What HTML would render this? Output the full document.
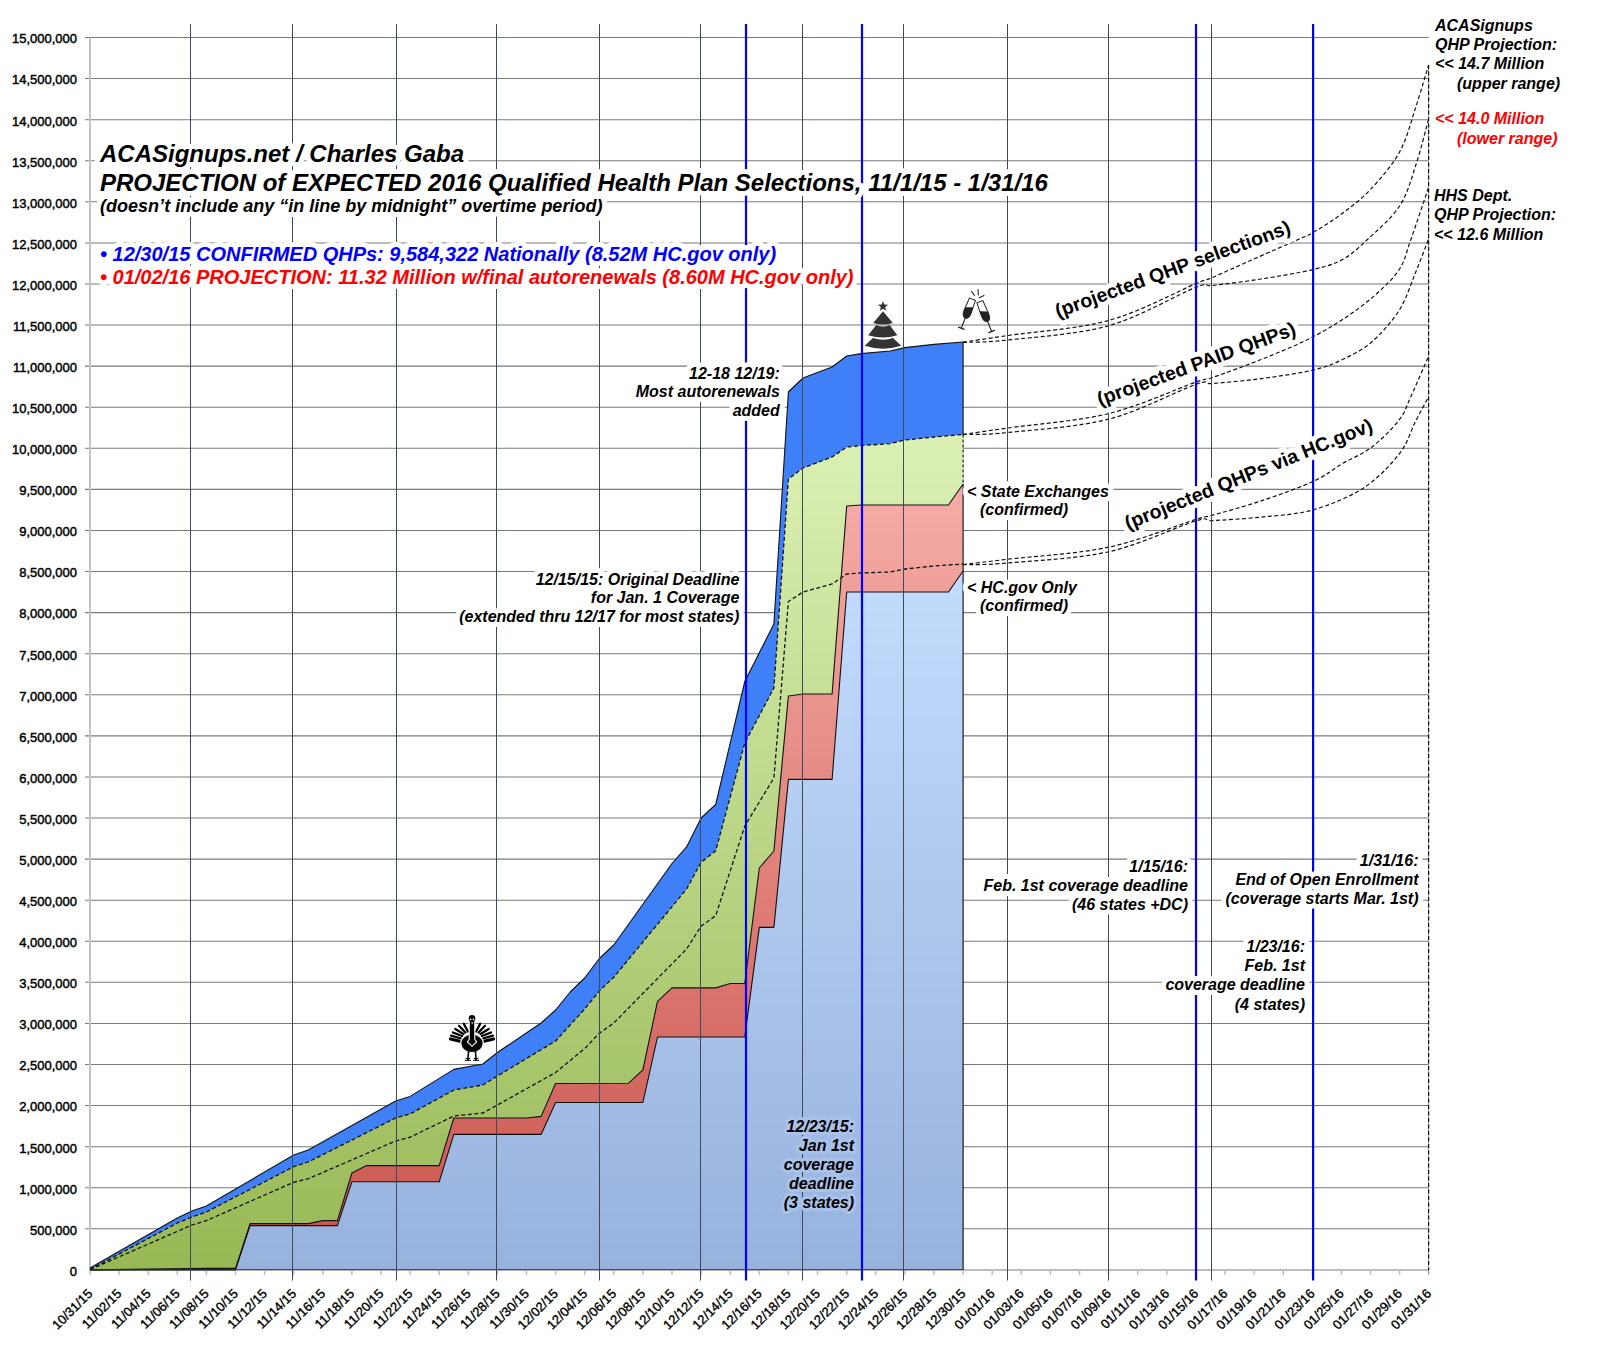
<!DOCTYPE html><html><head><meta charset="utf-8"><style>html,body{margin:0;padding:0;background:#fff;}svg{display:block;}text{font-family:"Liberation Sans",sans-serif;}</style></head><body>
<svg width="1600" height="1350" viewBox="0 0 1600 1350">
<defs>
<linearGradient id="gLB" gradientUnits="userSpaceOnUse" x1="0" y1="571" x2="0" y2="1270"><stop offset="0" stop-color="#c3dbfc"/><stop offset="1" stop-color="#97b2dd"/></linearGradient>
<linearGradient id="gRT" gradientUnits="userSpaceOnUse" x1="0" y1="484" x2="0" y2="1270"><stop offset="0" stop-color="#f6aca7"/><stop offset="1" stop-color="#c9544c"/></linearGradient>
<linearGradient id="gGT" gradientUnits="userSpaceOnUse" x1="0" y1="434" x2="0" y2="1270"><stop offset="0" stop-color="#dbf1b4"/><stop offset="1" stop-color="#98b855"/></linearGradient>
</defs>
<rect width="1600" height="1350" fill="#fff"/>
<g stroke="#7a7a7a" stroke-width="1.05"><line x1="85" y1="1228.82" x2="1428.6" y2="1228.82"/><line x1="85" y1="1187.74" x2="1428.6" y2="1187.74"/><line x1="85" y1="1146.66" x2="1428.6" y2="1146.66"/><line x1="85" y1="1105.58" x2="1428.6" y2="1105.58"/><line x1="85" y1="1064.50" x2="1428.6" y2="1064.50"/><line x1="85" y1="1023.42" x2="1428.6" y2="1023.42"/><line x1="85" y1="982.34" x2="1428.6" y2="982.34"/><line x1="85" y1="941.26" x2="1428.6" y2="941.26"/><line x1="85" y1="900.18" x2="1428.6" y2="900.18"/><line x1="85" y1="859.10" x2="1428.6" y2="859.10"/><line x1="85" y1="818.02" x2="1428.6" y2="818.02"/><line x1="85" y1="776.94" x2="1428.6" y2="776.94"/><line x1="85" y1="735.86" x2="1428.6" y2="735.86"/><line x1="85" y1="694.78" x2="1428.6" y2="694.78"/><line x1="85" y1="653.70" x2="1428.6" y2="653.70"/><line x1="85" y1="612.62" x2="1428.6" y2="612.62"/><line x1="85" y1="571.54" x2="1428.6" y2="571.54"/><line x1="85" y1="530.46" x2="1428.6" y2="530.46"/><line x1="85" y1="489.38" x2="1428.6" y2="489.38"/><line x1="85" y1="448.30" x2="1428.6" y2="448.30"/><line x1="85" y1="407.22" x2="1428.6" y2="407.22"/><line x1="85" y1="366.14" x2="1428.6" y2="366.14"/><line x1="85" y1="325.06" x2="1428.6" y2="325.06"/><line x1="85" y1="283.98" x2="1428.6" y2="283.98"/><line x1="85" y1="242.90" x2="1428.6" y2="242.90"/><line x1="85" y1="201.82" x2="1428.6" y2="201.82"/><line x1="85" y1="160.74" x2="1428.6" y2="160.74"/><line x1="85" y1="119.66" x2="1428.6" y2="119.66"/><line x1="85" y1="78.58" x2="1428.6" y2="78.58"/><line x1="85" y1="37.50" x2="1428.6" y2="37.50"/></g>
<g font-size="13" font-weight="normal" stroke="#000" stroke-width="0.45" text-anchor="end" fill="#000"><text x="77" y="1275.7">0</text><text x="77" y="1234.6">500,000</text><text x="77" y="1193.5">1,000,000</text><text x="77" y="1152.5">1,500,000</text><text x="77" y="1111.4">2,000,000</text><text x="77" y="1070.3">2,500,000</text><text x="77" y="1029.2">3,000,000</text><text x="77" y="988.1">3,500,000</text><text x="77" y="947.1">4,000,000</text><text x="77" y="906.0">4,500,000</text><text x="77" y="864.9">5,000,000</text><text x="77" y="823.8">5,500,000</text><text x="77" y="782.7">6,000,000</text><text x="77" y="741.7">6,500,000</text><text x="77" y="700.6">7,000,000</text><text x="77" y="659.5">7,500,000</text><text x="77" y="618.4">8,000,000</text><text x="77" y="577.3">8,500,000</text><text x="77" y="536.3">9,000,000</text><text x="77" y="495.2">9,500,000</text><text x="77" y="454.1">10,000,000</text><text x="77" y="413.0">10,500,000</text><text x="77" y="371.9">11,000,000</text><text x="77" y="330.9">11,500,000</text><text x="77" y="289.8">12,000,000</text><text x="77" y="248.7">12,500,000</text><text x="77" y="207.6">13,000,000</text><text x="77" y="166.5">13,500,000</text><text x="77" y="125.5">14,000,000</text><text x="77" y="84.4">14,500,000</text><text x="77" y="43.3">15,000,000</text></g>
<line x1="90" y1="37.5" x2="90" y2="1270" stroke="#c4c4c4" stroke-width="2"/>
<line x1="89" y1="1270" x2="1428.6" y2="1270" stroke="#bdbdbd" stroke-width="2"/>
<g stroke="#bdbdbd" stroke-width="1.5"><line x1="90.0" y1="1270" x2="90.0" y2="1275"/><line x1="119.1" y1="1270" x2="119.1" y2="1275"/><line x1="148.2" y1="1270" x2="148.2" y2="1275"/><line x1="177.3" y1="1270" x2="177.3" y2="1275"/><line x1="206.4" y1="1270" x2="206.4" y2="1275"/><line x1="235.5" y1="1270" x2="235.5" y2="1275"/><line x1="264.6" y1="1270" x2="264.6" y2="1275"/><line x1="293.7" y1="1270" x2="293.7" y2="1275"/><line x1="322.8" y1="1270" x2="322.8" y2="1275"/><line x1="351.9" y1="1270" x2="351.9" y2="1275"/><line x1="381.0" y1="1270" x2="381.0" y2="1275"/><line x1="410.1" y1="1270" x2="410.1" y2="1275"/><line x1="439.2" y1="1270" x2="439.2" y2="1275"/><line x1="468.3" y1="1270" x2="468.3" y2="1275"/><line x1="497.4" y1="1270" x2="497.4" y2="1275"/><line x1="526.5" y1="1270" x2="526.5" y2="1275"/><line x1="555.6" y1="1270" x2="555.6" y2="1275"/><line x1="584.7" y1="1270" x2="584.7" y2="1275"/><line x1="613.8" y1="1270" x2="613.8" y2="1275"/><line x1="642.9" y1="1270" x2="642.9" y2="1275"/><line x1="672.0" y1="1270" x2="672.0" y2="1275"/><line x1="701.1" y1="1270" x2="701.1" y2="1275"/><line x1="730.2" y1="1270" x2="730.2" y2="1275"/><line x1="759.3" y1="1270" x2="759.3" y2="1275"/><line x1="788.4" y1="1270" x2="788.4" y2="1275"/><line x1="817.5" y1="1270" x2="817.5" y2="1275"/><line x1="846.7" y1="1270" x2="846.7" y2="1275"/><line x1="875.8" y1="1270" x2="875.8" y2="1275"/><line x1="904.9" y1="1270" x2="904.9" y2="1275"/><line x1="934.0" y1="1270" x2="934.0" y2="1275"/><line x1="963.1" y1="1270" x2="963.1" y2="1275"/><line x1="992.2" y1="1270" x2="992.2" y2="1275"/><line x1="1021.3" y1="1270" x2="1021.3" y2="1275"/><line x1="1050.4" y1="1270" x2="1050.4" y2="1275"/><line x1="1079.5" y1="1270" x2="1079.5" y2="1275"/><line x1="1108.6" y1="1270" x2="1108.6" y2="1275"/><line x1="1137.7" y1="1270" x2="1137.7" y2="1275"/><line x1="1166.8" y1="1270" x2="1166.8" y2="1275"/><line x1="1195.9" y1="1270" x2="1195.9" y2="1275"/><line x1="1225.0" y1="1270" x2="1225.0" y2="1275"/><line x1="1254.1" y1="1270" x2="1254.1" y2="1275"/><line x1="1283.2" y1="1270" x2="1283.2" y2="1275"/><line x1="1312.3" y1="1270" x2="1312.3" y2="1275"/><line x1="1341.4" y1="1270" x2="1341.4" y2="1275"/><line x1="1370.5" y1="1270" x2="1370.5" y2="1275"/><line x1="1399.6" y1="1270" x2="1399.6" y2="1275"/><line x1="1428.7" y1="1270" x2="1428.7" y2="1275"/></g>
<polygon points="90.0,1269.9 90.0,1268.0 177.3,1218.0 191.9,1211.0 206.4,1206.0 293.7,1155.0 308.3,1150.0 395.6,1101.0 410.1,1096.4 453.8,1069.4 482.9,1064.0 497.4,1052.5 541.1,1023.0 555.6,1010.0 570.2,992.0 584.7,978.0 599.3,958.5 613.8,945.0 672.0,863.5 686.6,846.9 701.1,818.0 715.7,804.5 744.8,681.5 773.9,624.0 788.4,392.0 803.0,378.0 832.1,367.0 846.7,356.0 861.2,353.6 890.3,351.0 904.9,347.6 934.0,344.4 963.1,342.0 963.1,1269.9" fill="#3f7ff8" stroke="none"/>
<polygon points="90.0,1269.9 90.0,1269.5 177.3,1223.0 191.9,1217.0 206.4,1212.0 293.7,1166.7 308.3,1162.0 395.6,1118.0 410.1,1114.0 453.8,1090.0 482.9,1085.0 497.4,1076.0 555.6,1041.0 584.7,1009.0 599.3,991.0 613.8,977.2 686.6,889.0 701.1,862.3 715.7,850.8 744.8,743.0 773.9,688.0 788.4,479.0 803.0,468.0 832.1,457.0 846.7,447.0 861.2,445.6 890.3,443.6 904.9,440.0 934.0,437.0 963.1,434.4 963.1,1269.9" fill="url(#gGT)" stroke="none"/>
<polygon points="90.0,1269.9 90.0,1269.9 206.4,1268.4 235.5,1268.4 250.1,1223.6 308.3,1223.6 322.8,1220.6 337.4,1220.6 351.9,1173.0 366.5,1165.6 439.2,1165.6 453.8,1118.0 526.5,1118.0 541.1,1116.4 555.6,1083.5 628.4,1083.3 642.9,1069.8 657.5,1001.4 672.0,987.9 715.7,987.9 730.2,983.5 744.8,983.5 759.3,868.0 773.9,851.0 788.4,696.0 803.0,694.0 832.1,694.0 846.7,506.0 861.2,505.0 948.5,505.0 963.1,484.0 963.1,1269.9" fill="url(#gRT)" stroke="none"/>
<polygon points="90.0,1269.9 90.0,1269.9 235.5,1269.9 250.1,1225.6 337.4,1225.6 351.9,1181.8 439.2,1181.8 453.8,1134.4 541.1,1134.4 555.6,1102.5 642.9,1102.5 657.5,1037.0 744.8,1037.0 759.3,927.4 773.9,927.4 788.4,779.4 832.1,779.4 846.7,592.0 948.5,592.0 963.1,571.0 963.1,1269.9" fill="url(#gLB)" stroke="none"/>
<polyline points="90.0,1268.0 177.3,1218.0 191.9,1211.0 206.4,1206.0 293.7,1155.0 308.3,1150.0 395.6,1101.0 410.1,1096.4 453.8,1069.4 482.9,1064.0 497.4,1052.5 541.1,1023.0 555.6,1010.0 570.2,992.0 584.7,978.0 599.3,958.5 613.8,945.0 672.0,863.5 686.6,846.9 701.1,818.0 715.7,804.5 744.8,681.5 773.9,624.0 788.4,392.0 803.0,378.0 832.1,367.0 846.7,356.0 861.2,353.6 890.3,351.0 904.9,347.6 934.0,344.4 963.1,342.0" fill="none" stroke="#111" stroke-width="1.1" stroke-linejoin="round"/>
<polyline points="90.0,1269.9 206.4,1268.4 235.5,1268.4 250.1,1223.6 308.3,1223.6 322.8,1220.6 337.4,1220.6 351.9,1173.0 366.5,1165.6 439.2,1165.6 453.8,1118.0 526.5,1118.0 541.1,1116.4 555.6,1083.5 628.4,1083.3 642.9,1069.8 657.5,1001.4 672.0,987.9 715.7,987.9 730.2,983.5 744.8,983.5 759.3,868.0 773.9,851.0 788.4,696.0 803.0,694.0 832.1,694.0 846.7,506.0 861.2,505.0 948.5,505.0 963.1,484.0" fill="none" stroke="#111" stroke-width="1.1" stroke-linejoin="round"/>
<polyline points="90.0,1269.9 235.5,1269.9 250.1,1225.6 337.4,1225.6 351.9,1181.8 439.2,1181.8 453.8,1134.4 541.1,1134.4 555.6,1102.5 642.9,1102.5 657.5,1037.0 744.8,1037.0 759.3,927.4 773.9,927.4 788.4,779.4 832.1,779.4 846.7,592.0 948.5,592.0 963.1,571.0" fill="none" stroke="#111" stroke-width="1.1" stroke-linejoin="round"/>
<polyline points="90.0,1269.5 177.3,1223.0 191.9,1217.0 206.4,1212.0 293.7,1166.7 308.3,1162.0 395.6,1118.0 410.1,1114.0 453.8,1090.0 482.9,1085.0 497.4,1076.0 555.6,1041.0 584.7,1009.0 599.3,991.0 613.8,977.2 686.6,889.0 701.1,862.3 715.7,850.8 744.8,743.0 773.9,688.0 788.4,479.0 803.0,468.0 832.1,457.0 846.7,447.0 861.2,445.6 890.3,443.6 904.9,440.0 934.0,437.0 963.1,434.4" fill="none" stroke="#111" stroke-width="1.3" stroke-dasharray="4,2.5"/>
<polyline points="90.0,1269.5 191.9,1225.0 206.4,1220.6 293.7,1182.3 308.3,1178.7 395.6,1141.0 410.1,1137.2 453.8,1116.0 482.9,1113.0 497.4,1105.0 555.6,1072.5 584.7,1048.6 599.3,1033.2 613.8,1023.0 686.6,949.0 701.1,926.2 715.7,915.6 744.8,826.0 773.9,778.0 788.4,601.5 803.0,592.0 832.1,584.0 846.7,574.0 861.2,573.0 890.3,572.0 904.9,569.0 934.0,566.0 963.1,564.0" fill="none" stroke="#111" stroke-width="1.3" stroke-dasharray="4,2.5"/>
<line x1="963.1" y1="342" x2="963.1" y2="434.4" stroke="#111" stroke-width="1.1"/>
<line x1="963.1" y1="434.4" x2="963.1" y2="484" stroke="#111" stroke-width="1.1" stroke-dasharray="3,2"/>
<line x1="963.1" y1="484" x2="963.1" y2="1270" stroke="#111" stroke-width="1.1"/>
<line x1="90" y1="1269.6" x2="963.1" y2="1269.6" stroke="#333" stroke-width="0.9"/>
<path d="M963.0,342.2 C970.5,341.1 983.8,339.1 1008.0,335.5 C1032.2,331.9 1077.2,329.1 1108.5,320.5 C1139.8,311.9 1178.2,291.0 1195.5,283.8 C1212.8,276.6 1203.2,281.5 1212.5,277.5 C1221.8,273.5 1237.5,266.2 1251.6,260.0 C1265.7,253.8 1286.8,244.6 1297.0,240.0 C1307.2,235.4 1305.6,236.8 1313.0,232.5 C1320.4,228.2 1331.9,221.2 1341.5,214.0 C1351.1,206.8 1360.8,199.7 1370.5,189.4 C1380.2,179.1 1392.0,165.8 1399.6,152.0 C1407.2,138.2 1411.2,120.9 1416.0,106.4 C1420.8,91.9 1426.5,71.9 1428.6,65.0" fill="none" stroke="#111" stroke-width="1.2" stroke-dasharray="4,2.5"/>
<path d="M963.0,342.4 C970.5,342.0 983.8,342.8 1008.0,340.0 C1032.2,337.2 1077.2,334.5 1108.5,325.8 C1139.8,317.0 1178.2,294.2 1195.5,287.5 C1212.8,280.8 1201.5,286.9 1212.5,285.5 C1223.5,284.1 1244.4,281.7 1261.2,279.0 C1278.0,276.3 1299.7,272.8 1313.2,269.5 C1326.8,266.2 1333.5,264.4 1342.5,259.5 C1351.5,254.6 1357.4,248.9 1366.9,240.0 C1376.4,231.1 1391.4,218.6 1399.6,206.0 C1407.8,193.4 1411.2,179.0 1416.0,164.5 C1420.8,150.0 1426.5,126.6 1428.6,119.0" fill="none" stroke="#111" stroke-width="1.2" stroke-dasharray="4,2.5"/>
<path d="M963.0,434.4 C970.5,433.3 983.8,431.5 1008.0,428.0 C1032.2,424.5 1077.2,421.2 1108.5,413.6 C1139.8,406.0 1178.2,388.2 1195.5,382.2 C1212.8,376.2 1201.5,381.3 1212.5,377.5 C1223.5,373.7 1245.5,365.8 1261.2,359.5 C1276.9,353.2 1293.2,346.6 1306.7,340.0 C1320.2,333.4 1331.1,327.1 1342.5,319.6 C1353.9,312.1 1365.5,303.6 1375.0,295.2 C1384.5,286.8 1393.5,278.4 1399.4,269.2 C1405.4,260.0 1405.8,253.7 1410.7,240.0 C1415.6,226.3 1425.6,196.1 1428.6,187.3" fill="none" stroke="#111" stroke-width="1.2" stroke-dasharray="4,2.5"/>
<path d="M963.0,434.6 C970.5,434.2 983.8,435.1 1008.0,432.5 C1032.2,429.9 1077.2,427.2 1108.5,419.2 C1139.8,411.2 1178.2,390.4 1195.5,384.5 C1212.8,378.6 1201.5,384.5 1212.5,383.5 C1223.5,382.5 1244.4,380.9 1261.2,378.6 C1278.0,376.4 1299.7,373.2 1313.2,370.0 C1326.8,366.8 1332.8,364.2 1342.5,359.5 C1352.2,354.8 1362.2,350.3 1371.7,342.0 C1381.2,333.7 1392.1,321.5 1399.4,309.9 C1406.7,298.3 1410.7,284.3 1415.6,272.5 C1420.5,260.7 1426.4,244.6 1428.6,239.0" fill="none" stroke="#111" stroke-width="1.2" stroke-dasharray="4,2.5"/>
<path d="M963.0,564.5 C970.5,563.6 983.8,562.1 1008.0,559.2 C1032.2,556.4 1077.2,553.9 1108.5,547.2 C1139.8,540.6 1178.2,524.8 1195.5,519.5 C1212.8,514.2 1201.5,518.3 1212.5,515.2 C1223.5,512.1 1244.4,506.5 1261.2,500.9 C1278.0,495.3 1299.7,487.6 1313.2,481.4 C1326.8,475.2 1332.8,469.2 1342.5,463.5 C1352.2,457.8 1362.2,454.5 1371.7,447.2 C1381.2,439.9 1392.9,428.0 1399.4,419.6 C1405.9,411.2 1405.8,407.5 1410.7,396.9 C1415.6,386.3 1425.6,363.0 1428.6,356.2" fill="none" stroke="#111" stroke-width="1.2" stroke-dasharray="4,2.5"/>
<path d="M963.0,564.7 C970.5,564.4 983.8,565.2 1008.0,563.0 C1032.2,560.8 1077.2,558.8 1108.5,551.8 C1139.8,544.8 1178.2,526.2 1195.5,521.0 C1212.8,515.8 1201.5,521.2 1212.5,520.6 C1223.5,520.0 1244.4,518.9 1261.2,517.1 C1278.0,515.3 1296.1,514.7 1313.2,509.8 C1330.3,504.9 1349.2,497.2 1363.6,487.9 C1378.0,478.5 1390.7,464.8 1399.4,453.7 C1408.1,442.6 1410.7,430.7 1415.6,421.2 C1420.5,411.7 1426.4,400.9 1428.6,396.9" fill="none" stroke="#111" stroke-width="1.2" stroke-dasharray="4,2.5"/>
<line x1="1428.6" y1="65" x2="1428.6" y2="1274" stroke="#9a9a9a" stroke-width="1"/><line x1="1428.6" y1="65" x2="1428.6" y2="1270" stroke="#111" stroke-width="1.2" stroke-dasharray="4,2.5"/>
<g stroke="#3e4a5c" stroke-width="1"><line x1="190.5" y1="24" x2="190.5" y2="1280.5"/><line x1="292.5" y1="24" x2="292.5" y2="1280.5"/><line x1="396.5" y1="24" x2="396.5" y2="1280.5"/><line x1="496.5" y1="24" x2="496.5" y2="1280.5"/><line x1="599.5" y1="24" x2="599.5" y2="1280.5"/><line x1="700.5" y1="24" x2="700.5" y2="1280.5"/><line x1="802.5" y1="24" x2="802.5" y2="1280.5"/><line x1="903.5" y1="24" x2="903.5" y2="1280.5"/><line x1="1007.5" y1="24" x2="1007.5" y2="1280.5"/><line x1="1108.5" y1="24" x2="1108.5" y2="1280.5"/><line x1="1211.5" y1="24" x2="1211.5" y2="1280.5"/></g>
<g stroke="#0000ff" stroke-width="2.2"><line x1="746.0" y1="24" x2="746.0" y2="1280.5"/><line x1="862.0" y1="24" x2="862.0" y2="1280.5"/><line x1="1196.0" y1="24" x2="1196.0" y2="1280.5"/><line x1="1313.1" y1="24" x2="1313.1" y2="1280.5"/></g>
<g font-size="13" stroke="#000" stroke-width="0.35" text-anchor="end" fill="#000"><text transform="translate(93.3,1294.5) rotate(-45)">10/31/15</text><text transform="translate(122.4,1294.5) rotate(-45)">11/02/15</text><text transform="translate(151.5,1294.5) rotate(-45)">11/04/15</text><text transform="translate(180.6,1294.5) rotate(-45)">11/06/15</text><text transform="translate(209.7,1294.5) rotate(-45)">11/08/15</text><text transform="translate(238.8,1294.5) rotate(-45)">11/10/15</text><text transform="translate(267.9,1294.5) rotate(-45)">11/12/15</text><text transform="translate(297.0,1294.5) rotate(-45)">11/14/15</text><text transform="translate(326.1,1294.5) rotate(-45)">11/16/15</text><text transform="translate(355.2,1294.5) rotate(-45)">11/18/15</text><text transform="translate(384.3,1294.5) rotate(-45)">11/20/15</text><text transform="translate(413.4,1294.5) rotate(-45)">11/22/15</text><text transform="translate(442.5,1294.5) rotate(-45)">11/24/15</text><text transform="translate(471.6,1294.5) rotate(-45)">11/26/15</text><text transform="translate(500.7,1294.5) rotate(-45)">11/28/15</text><text transform="translate(529.8,1294.5) rotate(-45)">11/30/15</text><text transform="translate(558.9,1294.5) rotate(-45)">12/02/15</text><text transform="translate(588.0,1294.5) rotate(-45)">12/04/15</text><text transform="translate(617.1,1294.5) rotate(-45)">12/06/15</text><text transform="translate(646.2,1294.5) rotate(-45)">12/08/15</text><text transform="translate(675.3,1294.5) rotate(-45)">12/10/15</text><text transform="translate(704.4,1294.5) rotate(-45)">12/12/15</text><text transform="translate(733.5,1294.5) rotate(-45)">12/14/15</text><text transform="translate(762.6,1294.5) rotate(-45)">12/16/15</text><text transform="translate(791.7,1294.5) rotate(-45)">12/18/15</text><text transform="translate(820.8,1294.5) rotate(-45)">12/20/15</text><text transform="translate(850.0,1294.5) rotate(-45)">12/22/15</text><text transform="translate(879.1,1294.5) rotate(-45)">12/24/15</text><text transform="translate(908.2,1294.5) rotate(-45)">12/26/15</text><text transform="translate(937.3,1294.5) rotate(-45)">12/28/15</text><text transform="translate(966.4,1294.5) rotate(-45)">12/30/15</text><text transform="translate(995.5,1294.5) rotate(-45)">01/01/16</text><text transform="translate(1024.6,1294.5) rotate(-45)">01/03/16</text><text transform="translate(1053.7,1294.5) rotate(-45)">01/05/16</text><text transform="translate(1082.8,1294.5) rotate(-45)">01/07/16</text><text transform="translate(1111.9,1294.5) rotate(-45)">01/09/16</text><text transform="translate(1141.0,1294.5) rotate(-45)">01/11/16</text><text transform="translate(1170.1,1294.5) rotate(-45)">01/13/16</text><text transform="translate(1199.2,1294.5) rotate(-45)">01/15/16</text><text transform="translate(1228.3,1294.5) rotate(-45)">01/17/16</text><text transform="translate(1257.4,1294.5) rotate(-45)">01/19/16</text><text transform="translate(1286.5,1294.5) rotate(-45)">01/21/16</text><text transform="translate(1315.6,1294.5) rotate(-45)">01/23/16</text><text transform="translate(1344.7,1294.5) rotate(-45)">01/25/16</text><text transform="translate(1373.8,1294.5) rotate(-45)">01/27/16</text><text transform="translate(1402.9,1294.5) rotate(-45)">01/29/16</text><text transform="translate(1432.0,1294.5) rotate(-45)">01/31/16</text></g>
<text x="100" y="162.2" font-size="24" font-weight="bold" font-style="italic" text-anchor="start" fill="#000" stroke="#fff" stroke-width="10" stroke-linejoin="round" paint-order="stroke" >ACASignups.net / Charles Gaba</text>
<text x="100" y="191" font-size="24" font-weight="bold" font-style="italic" text-anchor="start" fill="#000" stroke="#fff" stroke-width="10" stroke-linejoin="round" paint-order="stroke" >PROJECTION of EXPECTED 2016 Qualified Health Plan Selections, 11/1/15 - 1/31/16</text>
<text x="100" y="212" font-size="18" font-weight="bold" font-style="italic" text-anchor="start" fill="#000" stroke="#fff" stroke-width="10" stroke-linejoin="round" paint-order="stroke" >(doesn’t include any “in line by midnight” overtime period)</text>
<text x="100" y="260.7" font-size="20" font-weight="bold" font-style="italic" text-anchor="start" fill="#0000ff" stroke="#fff" stroke-width="10" stroke-linejoin="round" paint-order="stroke" >• 12/30/15 CONFIRMED QHPs: 9,584,322 Nationally (8.52M HC.gov only)</text>
<text x="100" y="284" font-size="20" font-weight="bold" font-style="italic" text-anchor="start" fill="#ff0000" stroke="#fff" stroke-width="10" stroke-linejoin="round" paint-order="stroke" >• 01/02/16 PROJECTION: 11.32 Million w/final autorenewals (8.60M HC.gov only)</text>
<text x="779.8" y="378.6" font-size="16" font-weight="bold" font-style="italic" text-anchor="end" fill="#000" stroke="#fff" stroke-width="10" stroke-linejoin="round" paint-order="stroke" >12-18 12/19:</text>
<text x="779.8" y="397.40000000000003" font-size="16" font-weight="bold" font-style="italic" text-anchor="end" fill="#000" stroke="#fff" stroke-width="10" stroke-linejoin="round" paint-order="stroke" >Most autorenewals</text>
<text x="779.8" y="416.20000000000005" font-size="16" font-weight="bold" font-style="italic" text-anchor="end" fill="#000" stroke="#fff" stroke-width="10" stroke-linejoin="round" paint-order="stroke" >added</text>
<text x="739.3" y="584.5" font-size="16" font-weight="bold" font-style="italic" text-anchor="end" fill="#000" stroke="#fff" stroke-width="10" stroke-linejoin="round" paint-order="stroke" >12/15/15: Original Deadline</text>
<text x="739.3" y="603.4" font-size="16" font-weight="bold" font-style="italic" text-anchor="end" fill="#000" stroke="#fff" stroke-width="10" stroke-linejoin="round" paint-order="stroke" >for Jan. 1 Coverage</text>
<text x="739.3" y="622.3" font-size="16" font-weight="bold" font-style="italic" text-anchor="end" fill="#000" stroke="#fff" stroke-width="10" stroke-linejoin="round" paint-order="stroke" >(extended thru 12/17 for most states)</text>
<text x="967" y="496.7" font-size="16" font-weight="bold" font-style="italic" text-anchor="start" fill="#000" stroke="#fff" stroke-width="10" stroke-linejoin="round" paint-order="stroke" >&lt; State Exchanges</text>
<text x="980" y="515" font-size="16" font-weight="bold" font-style="italic" text-anchor="start" fill="#000" stroke="#fff" stroke-width="10" stroke-linejoin="round" paint-order="stroke" >(confirmed)</text>
<text x="967" y="592.8" font-size="16" font-weight="bold" font-style="italic" text-anchor="start" fill="#000" stroke="#fff" stroke-width="10" stroke-linejoin="round" paint-order="stroke" >&lt; HC.gov Only</text>
<text x="980" y="611.1" font-size="16" font-weight="bold" font-style="italic" text-anchor="start" fill="#000" stroke="#fff" stroke-width="10" stroke-linejoin="round" paint-order="stroke" >(confirmed)</text>
<text x="854" y="1131.5" font-size="16" font-weight="bold" font-style="italic" text-anchor="end" fill="#000" stroke="#a8c2ea" stroke-width="6" stroke-linejoin="round" paint-order="stroke" >12/23/15:</text>
<text x="854" y="1150.7" font-size="16" font-weight="bold" font-style="italic" text-anchor="end" fill="#000" stroke="#a8c2ea" stroke-width="6" stroke-linejoin="round" paint-order="stroke" >Jan 1st</text>
<text x="854" y="1169.9" font-size="16" font-weight="bold" font-style="italic" text-anchor="end" fill="#000" stroke="#a8c2ea" stroke-width="6" stroke-linejoin="round" paint-order="stroke" >coverage</text>
<text x="854" y="1189.1" font-size="16" font-weight="bold" font-style="italic" text-anchor="end" fill="#000" stroke="#a8c2ea" stroke-width="6" stroke-linejoin="round" paint-order="stroke" >deadline</text>
<text x="854" y="1208.3" font-size="16" font-weight="bold" font-style="italic" text-anchor="end" fill="#000" stroke="#a8c2ea" stroke-width="6" stroke-linejoin="round" paint-order="stroke" >(3 states)</text>
<text x="1188" y="871.6" font-size="16" font-weight="bold" font-style="italic" text-anchor="end" fill="#000" stroke="#fff" stroke-width="10" stroke-linejoin="round" paint-order="stroke" >1/15/16:</text>
<text x="1188" y="890.6" font-size="16" font-weight="bold" font-style="italic" text-anchor="end" fill="#000" stroke="#fff" stroke-width="10" stroke-linejoin="round" paint-order="stroke" >Feb. 1st coverage deadline</text>
<text x="1188" y="909.6" font-size="16" font-weight="bold" font-style="italic" text-anchor="end" fill="#000" stroke="#fff" stroke-width="10" stroke-linejoin="round" paint-order="stroke" >(46 states +DC)</text>
<text x="1418.5" y="865.9" font-size="16" font-weight="bold" font-style="italic" text-anchor="end" fill="#000" stroke="#fff" stroke-width="10" stroke-linejoin="round" paint-order="stroke" >1/31/16:</text>
<text x="1418.5" y="884.9" font-size="16" font-weight="bold" font-style="italic" text-anchor="end" fill="#000" stroke="#fff" stroke-width="10" stroke-linejoin="round" paint-order="stroke" >End of Open Enrollment</text>
<text x="1418.5" y="903.9" font-size="16" font-weight="bold" font-style="italic" text-anchor="end" fill="#000" stroke="#fff" stroke-width="10" stroke-linejoin="round" paint-order="stroke" >(coverage starts Mar. 1st)</text>
<text x="1305" y="951.6" font-size="16" font-weight="bold" font-style="italic" text-anchor="end" fill="#000" stroke="#fff" stroke-width="10" stroke-linejoin="round" paint-order="stroke" >1/23/16:</text>
<text x="1305" y="970.9" font-size="16" font-weight="bold" font-style="italic" text-anchor="end" fill="#000" stroke="#fff" stroke-width="10" stroke-linejoin="round" paint-order="stroke" >Feb. 1st</text>
<text x="1305" y="990.2" font-size="16" font-weight="bold" font-style="italic" text-anchor="end" fill="#000" stroke="#fff" stroke-width="10" stroke-linejoin="round" paint-order="stroke" >coverage deadline</text>
<text x="1305" y="1009.5" font-size="16" font-weight="bold" font-style="italic" text-anchor="end" fill="#000" stroke="#fff" stroke-width="10" stroke-linejoin="round" paint-order="stroke" >(4 states)</text>
<text x="1435" y="30.5" font-size="16" font-weight="bold" font-style="italic" text-anchor="start" fill="#000" stroke="#fff" stroke-width="10" stroke-linejoin="round" paint-order="stroke" >ACASignups</text>
<text x="1435" y="49.5" font-size="16" font-weight="bold" font-style="italic" text-anchor="start" fill="#000" stroke="#fff" stroke-width="10" stroke-linejoin="round" paint-order="stroke" >QHP Projection:</text>
<text x="1435" y="68.75" font-size="16" font-weight="bold" font-style="italic" text-anchor="start" fill="#000" stroke="#fff" stroke-width="10" stroke-linejoin="round" paint-order="stroke" >&lt;&lt; 14.7 Million</text>
<text x="1457" y="88.75" font-size="16" font-weight="bold" font-style="italic" text-anchor="start" fill="#000" stroke="#fff" stroke-width="10" stroke-linejoin="round" paint-order="stroke" >(upper range)</text>
<text x="1435" y="124.25" font-size="16" font-weight="bold" font-style="italic" text-anchor="start" fill="#ff0000" stroke="#fff" stroke-width="10" stroke-linejoin="round" paint-order="stroke" >&lt;&lt; 14.0 Million</text>
<text x="1457" y="143.75" font-size="16" font-weight="bold" font-style="italic" text-anchor="start" fill="#ff0000" stroke="#fff" stroke-width="10" stroke-linejoin="round" paint-order="stroke" >(lower range)</text>
<text x="1434" y="201.25" font-size="16" font-weight="bold" font-style="italic" text-anchor="start" fill="#000" stroke="#fff" stroke-width="10" stroke-linejoin="round" paint-order="stroke" >HHS Dept.</text>
<text x="1434" y="220" font-size="16" font-weight="bold" font-style="italic" text-anchor="start" fill="#000" stroke="#fff" stroke-width="10" stroke-linejoin="round" paint-order="stroke" >QHP Projection:</text>
<text x="1434" y="239.5" font-size="16" font-weight="bold" font-style="italic" text-anchor="start" fill="#000" stroke="#fff" stroke-width="10" stroke-linejoin="round" paint-order="stroke" >&lt;&lt; 12.6 Million</text>
<text transform="translate(1058,318) rotate(-20)" font-size="19.5" font-weight="bold" fill="#000" stroke="#fff" stroke-width="10" stroke-linejoin="round" paint-order="stroke">(projected QHP selections)</text>
<text transform="translate(1100,406) rotate(-20)" font-size="19.5" font-weight="bold" fill="#000" stroke="#fff" stroke-width="10" stroke-linejoin="round" paint-order="stroke">(projected PAID QHPs)</text>
<text transform="translate(1128,530) rotate(-22)" font-size="19.5" font-weight="bold" fill="#000" stroke="#fff" stroke-width="10" stroke-linejoin="round" paint-order="stroke">(projected QHPs via HC.gov)</text>
<g fill="#000">
<g stroke="#000" stroke-linecap="round">
<line x1="461" y1="1041.5" x2="450.5" y2="1039" stroke-width="3.2"/>
<line x1="461" y1="1038.5" x2="451.2" y2="1035.6" stroke-width="2.3"/>
<line x1="462" y1="1036" x2="453" y2="1032.5" stroke-width="2.3"/>
<line x1="463.5" y1="1034" x2="455.3" y2="1029" stroke-width="2.3"/>
<line x1="465.5" y1="1032.5" x2="459" y2="1025.8" stroke-width="2.3"/>
<line x1="468" y1="1031.5" x2="463.8" y2="1023.8" stroke-width="2.3"/>
<line x1="483" y1="1041.5" x2="493.5" y2="1039" stroke-width="3.2"/>
<line x1="483" y1="1038.5" x2="492.8" y2="1035.6" stroke-width="2.3"/>
<line x1="482" y1="1036" x2="491" y2="1032.5" stroke-width="2.3"/>
<line x1="480.5" y1="1034" x2="488.7" y2="1029" stroke-width="2.3"/>
<line x1="478.5" y1="1032.5" x2="485" y2="1025.8" stroke-width="2.3"/>
<line x1="476" y1="1031.5" x2="480.2" y2="1023.8" stroke-width="2.3"/>
</g>
<ellipse cx="472" cy="1043.3" rx="11.3" ry="9.3" stroke="#fff" stroke-width="1.2"/>
<path d="M469.2,1019 L469.2,1039.5 L467.4,1042 L472,1046.3 L476.6,1042 L474.8,1039.5 L474.8,1019 Z" stroke="#fff" stroke-width="1.1"/>
<circle cx="472" cy="1018.4" r="3.3"/>
<circle cx="470.6" cy="1019.4" r="0.85" fill="#fff"/>
<circle cx="473.5" cy="1019.4" r="0.85" fill="#fff"/>
<path d="M471.3,1022.3 L473.1,1022.3 L472.2,1024.6 Z" fill="#fff"/>
<g stroke="#000" stroke-linecap="round" fill="none">
<line x1="468.6" y1="1051" x2="467.9" y2="1059.5" stroke-width="1.6"/>
<line x1="475.4" y1="1051" x2="476.1" y2="1059.5" stroke-width="1.6"/>
<path d="M465.2,1060.3 L470.5,1060.3 M467.9,1059.5 L465.8,1058.2 M467.9,1059.5 L469.9,1058.2" stroke-width="1"/>
<path d="M473.5,1060.3 L478.8,1060.3 M476.1,1059.5 L474.1,1058.2 M476.1,1059.5 L478.2,1058.2" stroke-width="1"/>
</g>
</g>
<g fill="#333">
<path d="M883.00,301.00 L884.32,304.58 L888.14,304.73 L885.14,307.10 L886.17,310.77 L883.00,308.65 L879.83,310.77 L880.86,307.10 L877.86,304.73 L881.68,304.58 Z"/>
<path d="M883,311.2 L892.8,323 Q883,326.2 873.2,323 Z"/>
<path d="M876.3,325 Q883,328 889.7,325 L897.3,335.2 Q883,339.6 868.2,335.2 Z"/>
<path d="M872.9,338.1 Q883,341.6 893.1,338.1 L901.1,345.7 Q883,351.6 864.7,345.7 Z"/>
</g>
<g><g transform="translate(961.3,328.2) rotate(21)" stroke="#222" fill="none" stroke-linecap="round">
<path d="M-3.2,-31 L-3.8,-18 Q-3.8,-11 0,-11 Q3.8,-11 3.8,-18 L3.2,-31 Z" stroke-width="1"/>
<path d="M-3.85,-21 L3.75,-23.8 L3.8,-18 Q3.8,-11 0,-11 Q-3.8,-11 -3.8,-18 Z" fill="#222" stroke="none"/>
<line x1="0" y1="-11" x2="0" y2="0" stroke-width="1.1"/>
<line x1="-3" y1="0" x2="3" y2="0" stroke-width="1.3"/>
</g><g transform="translate(991.6,331.5) rotate(-21.5)" stroke="#222" fill="none" stroke-linecap="round">
<path d="M-3.2,-32 L-3.8,-18 Q-3.8,-11 0,-11 Q3.8,-11 3.8,-18 L3.2,-32 Z" stroke-width="1"/>
<path d="M-3.85,-23.3 L3.75,-20 L3.8,-18 Q3.8,-11 0,-11 Q-3.8,-11 -3.8,-18 Z" fill="#222" stroke="none"/>
<line x1="0" y1="-11" x2="0" y2="0" stroke-width="1.1"/>
<line x1="-3" y1="0" x2="3" y2="0" stroke-width="1.3"/>
</g><g stroke="#222" stroke-width="1.1" stroke-linecap="round"><line x1="971.4" y1="291.3" x2="974.4" y2="295.4"/><line x1="978" y1="289.5" x2="978.4" y2="294.8"/><line x1="979.4" y1="297.8" x2="983.9" y2="295.4"/></g></g>
</svg></body></html>
